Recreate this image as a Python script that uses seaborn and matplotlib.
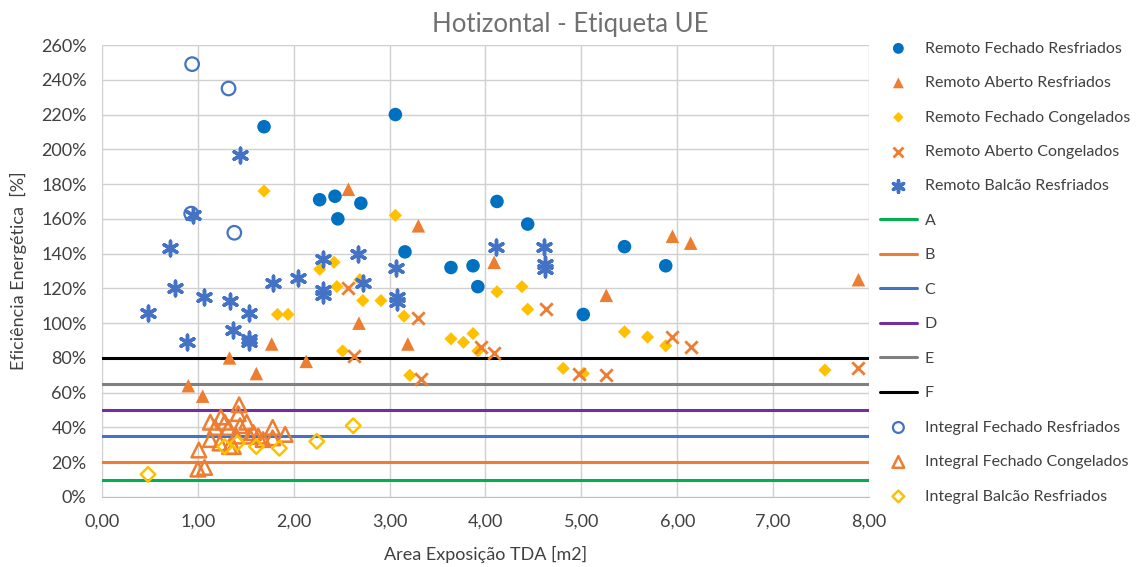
import matplotlib
matplotlib.use("Agg")
import matplotlib.pyplot as plt
import seaborn as sns
import pandas as pd
from matplotlib.ticker import PercentFormatter, FuncFormatter

# Remoto Fechado Resfriados
rfr_x = [1.69, 2.27, 2.43, 2.46, 2.70, 3.06, 3.16, 3.64, 3.87, 3.92, 4.12, 4.44, 5.02, 5.45, 5.88]
rfr_y = [213, 171, 173, 160, 169, 220, 141, 132, 133, 121, 170, 157, 105, 144, 133]

# Remoto Aberto Resfriados
rar_x = [0.90, 1.05, 1.33, 1.61, 1.77, 2.13, 2.57, 2.68, 3.19, 3.30, 4.09, 5.26, 5.95, 6.14, 7.89]
rar_y = [64, 58, 80, 71, 88, 78, 177, 100, 88, 156, 135, 116, 150, 146, 125]

# Remoto Fechado Congelados
rfc_x = [1.69, 1.83, 1.94, 2.27, 2.42, 2.45, 2.51, 2.69, 2.72, 2.91, 3.06, 3.15, 3.21,
         3.64, 3.77, 3.87, 3.92, 4.12, 4.38, 4.44, 4.81, 5.02, 5.45, 5.69, 5.88, 7.54]
rfc_y = [176, 105, 105, 131, 135, 121, 84, 125, 113, 113, 162, 104, 70,
         91, 89, 94, 84, 118, 121, 108, 74, 71, 95, 92, 87, 73]

# Remoto Aberto Congelados
rac_x = [2.57, 2.63, 3.30, 3.33, 3.95, 4.09, 4.63, 4.98, 5.26, 5.95, 6.14, 7.89]
rac_y = [120, 81, 103, 68, 86, 83, 108, 71, 70, 92, 86, 74]

# Remoto Balcão Resfriados
rbr_x = [0.48, 0.71, 0.76, 0.89, 0.95, 1.06, 1.33, 1.37, 1.44, 1.53, 1.53, 1.53, 1.78,
         2.04, 2.30, 2.30, 2.30, 2.67, 2.72, 3.07, 3.08, 3.08, 4.11, 4.61, 4.62, 4.62]
rbr_y = [106, 143, 120, 89, 162, 115, 113, 96, 197, 106, 91, 89, 123,
         126, 137, 119, 116, 140, 123, 132, 115, 112, 144, 144, 134, 131]

# Integral Fechado Resfriados
ifr_x = [0.94, 1.32, 0.93, 1.38]
ifr_y = [249, 235, 163, 152]

# Integral Fechado Congelados
ifc_x = [1.43, 1.42, 1.13, 1.24, 1.28, 1.18, 1.32, 1.44, 1.51, 1.58, 1.63, 1.13,
         1.23, 1.37, 1.40, 1.54, 1.68, 1.78, 1.91, 1.78, 1.01, 1.00, 1.07, 1.33]
ifc_y = [53, 48, 43, 46, 43, 40, 40, 41, 43, 37, 35, 33,
         31, 29, 35, 35, 33, 40, 36, 34, 27, 16, 17, 29]

# Integral Balcão Resfriados
ibr_x = [0.48, 1.28, 1.41, 1.61, 1.85, 2.24, 2.62]
ibr_y = [13, 29, 31, 29, 28, 32, 41]

# Class limits
class_names = ["A", "B", "C", "D", "E", "F"]
class_limits = [10, 20, 35, 50, 65, 80]
class_colors = ["#00B050", "#ED7D31", "#4472C4", "#7030A0", "#808080", "#000000"]

sns.set_style("white")
plt.rcParams["font.family"] = ["Lato", "DejaVu Sans"]

fig = plt.figure(figsize=(11.41, 5.67), dpi=100)
ax = fig.add_axes([0.0894, 0.1235, 0.6722, 0.7971])

def scat(x, y, label, **kw):
    df = pd.DataFrame({"x": x, "y": y})
    sns.scatterplot(data=df, x="x", y="y", ax=ax, label=label, **kw)

scat(rfr_x, rfr_y, "Remoto Fechado Resfriados", marker="o", s=95, color="#0070C0", edgecolor="none", zorder=3)
scat(rar_x, rar_y, "Remoto Aberto Resfriados", marker="^", s=95, color="#ED7D31", edgecolor="none", zorder=3)
scat(rfc_x, rfc_y, "Remoto Fechado Congelados", marker="D", s=45, color="#FFC000", edgecolor="none", zorder=3)
scat(rac_x, rac_y, "Remoto Aberto Congelados", marker="x", s=80, color="#ED7D31", linewidth=2, zorder=3)
scat(rbr_x, rbr_y, "Remoto Balcão Resfriados", marker=(6, 2, 0), s=110, color="#4472C4", linewidth=2.5, zorder=3)

for name, lim, col in zip(class_names, class_limits, class_colors):
    ax.axhline(lim, color=col, linewidth=2.2, label=name, zorder=2)

scat(ifr_x, ifr_y, "Integral Fechado Resfriados", marker="o", s=95, facecolor="none", edgecolor="#4472C4", linewidth=1.6, zorder=3)
scat(ifc_x, ifc_y, "Integral Fechado Congelados", marker="^", s=110, facecolor="none", edgecolor="#ED7D31", linewidth=1.8, zorder=3)
scat(ibr_x, ibr_y, "Integral Balcão Resfriados", marker="D", s=55, facecolor="none", edgecolor="#FFC000", linewidth=1.8, zorder=3)

ax.set_xlim(0, 8)
ax.set_ylim(0, 260)
ax.set_xticks(range(0, 9))
ax.set_yticks(range(0, 261, 20))
ax.xaxis.set_major_formatter(FuncFormatter(lambda v, p: f"{v:.2f}".replace(".", ",")))
ax.yaxis.set_major_formatter(PercentFormatter(decimals=0))
ax.grid(True, color="#D0D0D0", linewidth=1)
ax.set_axisbelow(True)
for s in ["top", "right", "left"]:
    ax.spines[s].set_visible(False)
ax.spines["bottom"].set_color("#BFBFBF")
ax.tick_params(axis="x", length=0, labelsize=13, colors="#404040", pad=12)
ax.tick_params(axis="y", length=0, labelsize=13, colors="#404040", pad=11)

# chart title is centred on the whole figure, as in Excel
fig.text(0.5, 0.956, "Hotizontal - Etiqueta UE", fontsize=18.5, color="#707070", ha="center", va="center")
ax.set_xlabel("Area Exposição TDA [m2]", fontsize=13, color="#404040", labelpad=12)
ax.set_ylabel("Eficiência Energética  [%]", fontsize=13, color="#404040", labelpad=10)

ax.legend(loc="upper left", bbox_to_anchor=(880 / 1141, 0.927), bbox_transform=fig.transFigure,
          borderaxespad=0, borderpad=0, frameon=False, fontsize=11.5,
          labelspacing=1.27, handlelength=2.3, handletextpad=0.5, labelcolor="#404040",
          markerscale=0.8)

fig.savefig("out.png", dpi=100)
